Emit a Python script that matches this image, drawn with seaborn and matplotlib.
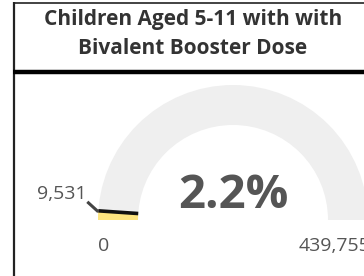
import matplotlib
matplotlib.use("Agg")
import matplotlib.pyplot as plt
import seaborn as sns
import numpy as np
from matplotlib.patches import Wedge

sns.set_theme(style="white")
plt.rcParams['font.family'] = ['Open Sans', 'DejaVu Sans']

title_lines = ["Children Aged 5-11 with with", "Bivalent Booster Dose"]
gauge_min = [0]
gauge_max = [439755]
gauge_value = [9531]

W, H = 364, 276
fig = plt.figure(figsize=(W / 100, H / 100), dpi=100)
ax = fig.add_axes([0, 0, 1, 1])
ax.set_xlim(0, W)
ax.set_ylim(H, 0)
ax.set_aspect('auto')
ax.axis('off')

# frame
ax.plot([13.5, 13.5], [2, 276], color='#222222', lw=1.6, solid_capstyle='butt')
ax.plot([13, 380], [3, 3], color='#222222', lw=1.2, solid_capstyle='butt')
ax.plot([13, 380], [72, 72], color='#000000', lw=3.2, solid_capstyle='butt')

# title
ax.text(193, 20, title_lines[0], ha='center', va='center', fontsize=15,
        fontweight='bold', color='#333333')
ax.text(193, 48, title_lines[1], ha='center', va='center', fontsize=15,
        fontweight='bold', color='#333333')

# gauge
cx, cy = 233, 220
r_out, r_in = 135, 95
frac = gauge_value[0] / (gauge_max[0] - gauge_min[0])
bg = Wedge((cx, cy), r_out, 180, 360, width=r_out - r_in, facecolor='#efefef',
           edgecolor='none')
ax.add_patch(bg)
ang_end = 180 + frac * 180
val = Wedge((cx, cy), r_out, 180, ang_end, width=r_out - r_in,
            facecolor='#fde47f', edgecolor='none')
ax.add_patch(val)

# needle marker at value angle
a = np.deg2rad(ang_end)
ax.plot([cx + r_in * np.cos(a), cx + r_out * np.cos(a)],
        [cy + r_in * np.sin(a), cy + r_out * np.sin(a)],
        color='#111111', lw=2.6, solid_capstyle='butt')

# leader line and value label
px, py = cx + r_out * np.cos(a), cy + r_out * np.sin(a)
ax.plot([px, px - 11], [py + 1, py - 9], color='#444444', lw=2.2,
        solid_capstyle='butt')
ax.text(px - 12, py - 17, f"{gauge_value[0]:,}", ha='right', va='center',
        fontsize=14, color='#555555')

# min / max labels
ax.text(cx - r_out, 246, f"{gauge_min[0]:,}", ha='left',
        va='center', fontsize=14, color='#555555')
ax.text(cx + r_out + 2, 246, f"{gauge_max[0]:,}", ha='right',
        va='center', fontsize=14, color='#555555')

# percentage
ax.text(cx, 196, f"{frac * 100:.1f}%", ha='center', va='center', fontsize=34,
        fontweight='bold', color='#555555')

fig.savefig("out.png", dpi=100, facecolor='white')
